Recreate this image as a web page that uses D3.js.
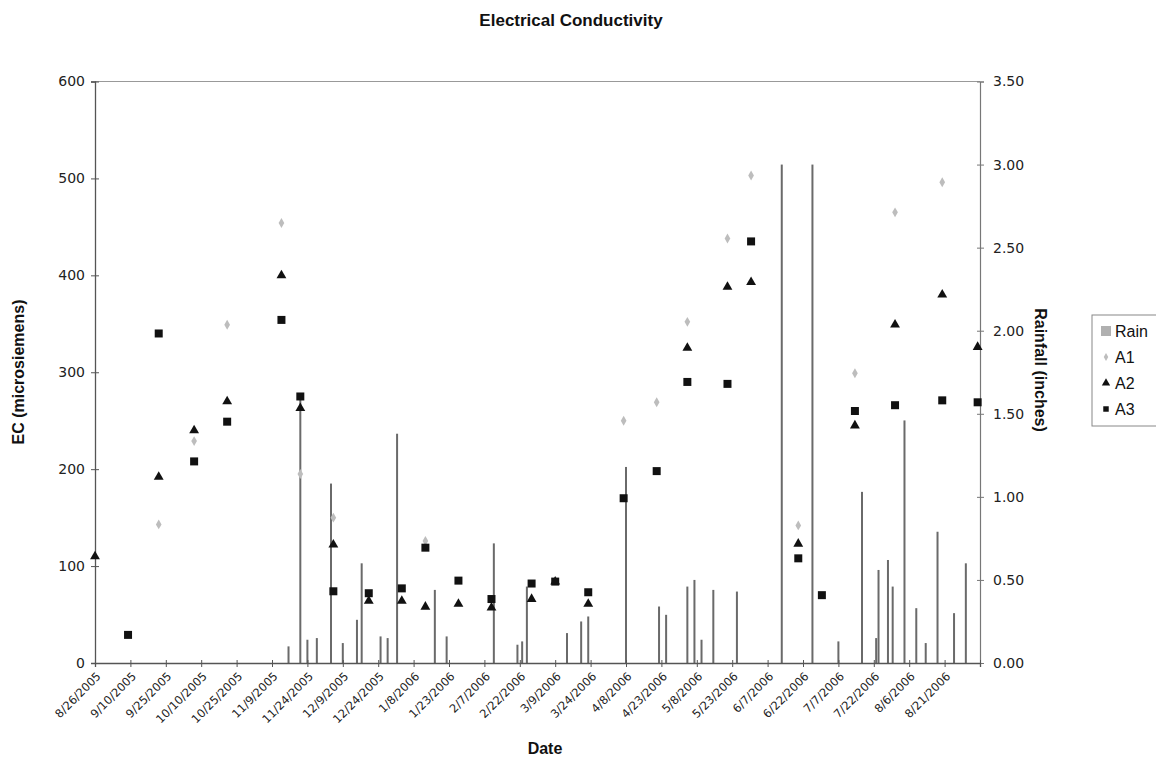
<!DOCTYPE html>
<html>
<head>
<meta charset="utf-8">
<script src="https://cdn.jsdelivr.net/npm/d3@7"></script>
<style>
  html, body { margin: 0; padding: 0; background: #fff; }
  svg { display: block; }
</style>
</head>
<body>
<svg id="chart" width="1156" height="761"></svg>
<script>
// ---------- DATA ----------
const xTickLabels = ["8/26/2005","9/10/2005","9/25/2005","10/10/2005","10/25/2005","11/9/2005","11/24/2005",
  "12/9/2005","12/24/2005","1/8/2006","1/23/2006","2/7/2006","2/22/2006","3/9/2006","3/24/2006","4/8/2006",
  "4/23/2006","5/8/2006","5/23/2006","6/7/2006","6/22/2006","7/7/2006","7/22/2006","8/6/2006","8/21/2006"];
const xAxisEnd = "9/5/2006";
const ecTicks = [0, 100, 200, 300, 400, 500, 600];
const rainTicks = [0, 0.5, 1, 1.5, 2, 2.5, 3, 3.5];

const sampleDates = ["8/26/2005","9/9/2005","9/22/2005","10/7/2005","10/21/2005","11/13/2005","11/21/2005",
  "12/5/2005","12/20/2005","1/3/2006","1/13/2006","1/27/2006","2/10/2006","2/27/2006","3/9/2006","3/23/2006",
  "4/7/2006","4/21/2006","5/4/2006","5/21/2006","5/31/2006","6/20/2006","6/30/2006","7/14/2006","7/31/2006",
  "8/20/2006","9/4/2006"];
const a1 = [null,null,143,229,349,454,195,150,null,null,126,null,null,null,null,null,
  250,269,352,438,503,142,null,299,465,496,null];
const a2 = [110,null,192,240,270,400,263,122,64,64,58,61,57,66,84,61,
  null,null,325,388,393,123,null,245,349,380,326];
const a3 = [null,29,340,208,249,354,275,74,72,77,119,85,66,82,84,73,
  170,198,290,288,435,108,70,260,266,271,269];

const rainDates = ["11/16/2005","11/21/2005","11/24/2005","11/28/2005","12/4/2005","12/9/2005","12/15/2005",
  "12/17/2005","12/25/2005","12/28/2005","1/1/2006","1/17/2006","1/22/2006","2/11/2006","2/21/2006","2/23/2006",
  "2/25/2006","3/14/2006","3/20/2006","3/23/2006","4/8/2006","4/22/2006","4/25/2006","5/4/2006","5/7/2006",
  "5/10/2006","5/15/2006","5/25/2006","6/13/2006","6/26/2006","7/7/2006","7/17/2006","7/23/2006","7/24/2006",
  "7/28/2006","7/30/2006","8/4/2006","8/9/2006","8/13/2006","8/18/2006","8/25/2006","8/30/2006"];
const rainInches = [0.10,1.60,0.14,0.15,1.08,0.12,0.26,0.60,0.16,0.15,1.38,0.44,0.16,0.72,0.11,0.13,
  0.46,0.18,0.25,0.28,1.18,0.34,0.29,0.46,0.50,0.14,0.44,0.43,3.00,3.00,0.13,1.03,0.15,0.56,
  0.62,0.46,1.46,0.33,0.12,0.79,0.30,0.60];

// ---------- CHART ----------
const parse = d3.timeParse("%m/%d/%Y");
const svg = d3.select("#chart");

const x = d3.scaleTime().domain([parse(xTickLabels[0]), parse(xAxisEnd)]).range([95, 980]);
const y = d3.scaleLinear().domain([0, 600]).range([663, 81.5]);
const yr = d3.scaleLinear().domain([0, 3.5]).range([663, 81.5]);

const axisFont = "DejaVu Sans, Verdana, sans-serif";
const boldFont = "Liberation Sans, Arial, sans-serif";

// top border line of plot area
svg.append("line").attr("x1", x.range()[0]).attr("x2", x.range()[1])
  .attr("y1", y(600)).attr("y2", y(600)).attr("stroke", "#999").attr("stroke-width", 1.2);

// rain bars
svg.append("g").selectAll("rect").data(rainDates.map((d, i) => ({d: parse(d), v: rainInches[i]})))
  .join("rect")
  .attr("x", d => x(d.d) - 1)
  .attr("width", 2)
  .attr("y", d => yr(d.v))
  .attr("height", d => yr(0) - yr(d.v))
  .attr("fill", "#6a6a6a");

// left axis
const gL = svg.append("g").attr("transform", `translate(${x.range()[0]},0)`)
  .call(d3.axisLeft(y).tickValues(ecTicks).tickSize(4).tickFormat(d3.format("d")));
gL.select(".domain").attr("stroke", "#555").attr("stroke-width", 1.3);
gL.selectAll(".tick line").attr("x2", 4).attr("x1", -4).attr("stroke", "#555");
gL.selectAll("text").attr("font-family", axisFont).attr("font-size", 14).attr("fill", "#222").attr("x", -10);

// right axis
const gR = svg.append("g").attr("transform", `translate(${x.range()[1]},0)`)
  .call(d3.axisRight(yr).tickValues(rainTicks).tickSize(4).tickFormat(d3.format(".2f")));
gR.select(".domain").attr("stroke", "#777").attr("stroke-width", 1.2);
gR.selectAll(".tick line").attr("x1", -3).attr("x2", 4).attr("stroke", "#777");
gR.selectAll("text").attr("font-family", axisFont).attr("font-size", 14).attr("fill", "#222").attr("x", 13);

// bottom axis
const tickDates = xTickLabels.map(parse).concat([parse(xAxisEnd)]);
const gB = svg.append("g").attr("transform", `translate(0,${y(0)})`)
  .call(d3.axisBottom(x).tickValues(tickDates).tickSize(4)
    .tickFormat((d, i) => i < xTickLabels.length ? xTickLabels[i] : ""));
gB.select(".domain").attr("stroke", "#555").attr("stroke-width", 1.3);
gB.selectAll(".tick line").attr("y1", -3).attr("y2", 4).attr("stroke", "#555");
gB.selectAll("text")
  .attr("font-family", axisFont).attr("font-size", 11.5).attr("fill", "#222")
  .attr("text-anchor", "end").attr("dy", null).attr("y", 0)
  .attr("transform", "translate(6,14) rotate(-45)");

// markers
const samples = sampleDates.map((d, i) => ({d: parse(d), a1: a1[i], a2: a2[i], a3: a3[i]}));
const diamond = d3.symbol().type(d3.symbolDiamond).size(28);
const tri = d3.symbol().type(d3.symbolTriangle).size(42);
const sq = d3.symbol().type(d3.symbolSquare).size(64);

svg.append("g").selectAll("path").data(samples.filter(s => s.a1 != null)).join("path")
  .attr("d", diamond).attr("transform", s => `translate(${x(s.d)},${y(s.a1)})`)
  .attr("fill", "#bdbdbd");
svg.append("g").selectAll("path").data(samples.filter(s => s.a3 != null)).join("path")
  .attr("d", sq).attr("transform", s => `translate(${x(s.d)},${y(s.a3)})`)
  .attr("fill", "#111");
svg.append("g").selectAll("path").data(samples.filter(s => s.a2 != null)).join("path")
  .attr("d", tri).attr("transform", s => `translate(${x(s.d)},${y(s.a2)})`)
  .attr("fill", "#111");

// titles
svg.append("text").attr("x", 571).attr("y", 26).attr("text-anchor", "middle")
  .attr("font-family", boldFont).attr("font-weight", "bold").attr("font-size", 17)
  .attr("fill", "#111").text("Electrical Conductivity");
svg.append("text").attr("transform", "translate(24,372) rotate(-90)").attr("text-anchor", "middle")
  .attr("font-family", boldFont).attr("font-weight", "bold").attr("font-size", 16)
  .attr("fill", "#111").text("EC (microsiemens)");
svg.append("text").attr("transform", "translate(1035,370) rotate(90)").attr("text-anchor", "middle")
  .attr("font-family", boldFont).attr("font-weight", "bold").attr("font-size", 16)
  .attr("fill", "#111").text("Rainfall (inches)");
svg.append("text").attr("x", 545).attr("y", 754).attr("text-anchor", "middle")
  .attr("font-family", boldFont).attr("font-weight", "bold").attr("font-size", 16)
  .attr("fill", "#111").text("Date");

// legend
const legendItems = ["Rain", "A1", "A2", "A3"];
const lg = svg.append("g");
lg.append("rect").attr("x", 1092).attr("y", 315).attr("width", 70).attr("height", 111)
  .attr("fill", "#fff").attr("stroke", "#888").attr("stroke-width", 1);
legendItems.forEach((name, i) => {
  const cy = 331 + i * 26;
  const g = lg.append("g").attr("transform", `translate(1106,${cy})`);
  if (i === 0) g.append("rect").attr("x", -5).attr("y", -5).attr("width", 10).attr("height", 10).attr("fill", "#b0b0b0");
  if (i === 1) g.append("path").attr("d", d3.symbol().type(d3.symbolDiamond).size(18)).attr("fill", "#bdbdbd");
  if (i === 2) g.append("path").attr("d", d3.symbol().type(d3.symbolTriangle).size(30)).attr("fill", "#111");
  if (i === 3) g.append("path").attr("d", d3.symbol().type(d3.symbolSquare).size(30)).attr("fill", "#111");
  lg.append("text").attr("x", 1115).attr("y", cy + 6).attr("font-family", boldFont)
    .attr("font-size", 16).attr("fill", "#111").text(name);
});
</script>
</body>
</html>
